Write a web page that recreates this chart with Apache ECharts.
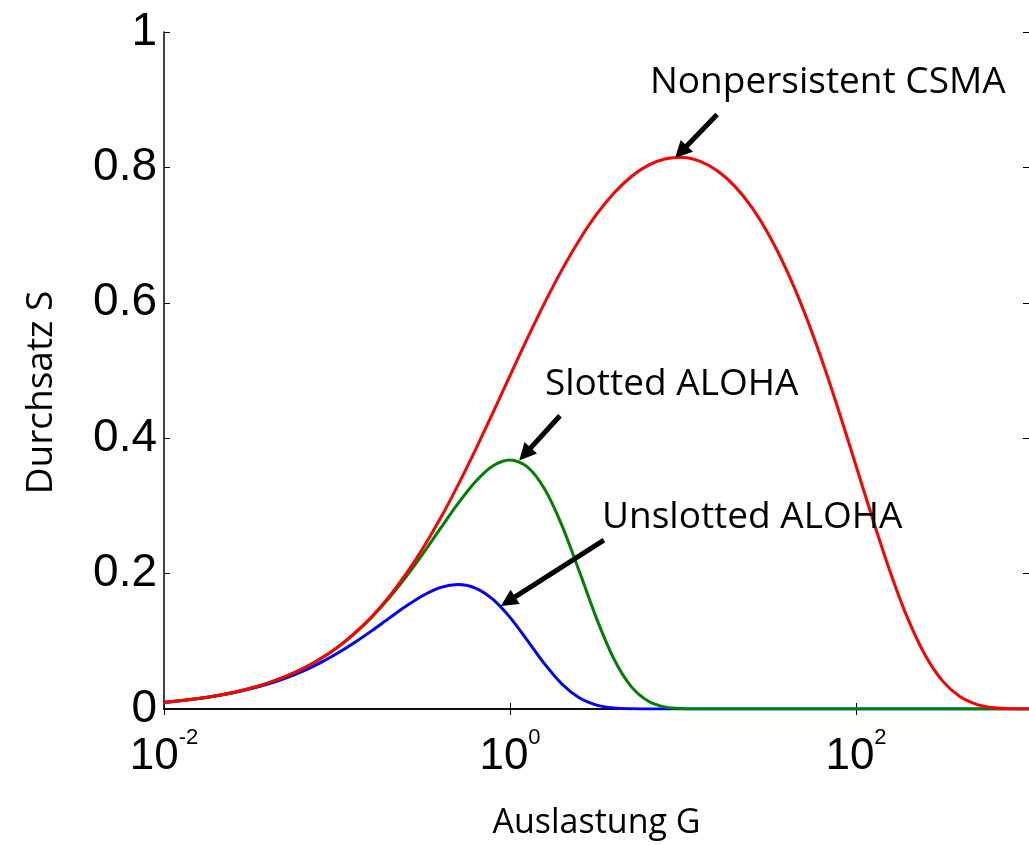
<!DOCTYPE html>
<html>
<head>
<meta charset="utf-8">
<script src="https://cdn.jsdelivr.net/npm/echarts@6/dist/echarts.min.js"></script>
<style>
html,body{margin:0;padding:0;background:#ffffff;}
#chart{width:1029px;height:845px;}
</style>
</head>
<body>
<div id="chart"></div>
<script>
// ---- data (load G on log axis, throughput S) ----
const loadG = [0.01, 0.01259, 0.01585, 0.01995, 0.02512, 0.03162, 0.03981, 0.05012, 0.0631, 0.07943,
  0.1, 0.1259, 0.1585, 0.1995, 0.2512, 0.3162, 0.3981, 0.5012, 0.631, 0.7943,
  1, 1.259, 1.585, 1.995, 2.512, 3.162, 3.981, 5.012, 6.31, 7.943,
  10, 12.59, 15.85, 19.95, 25.12, 31.62, 39.81, 50.12, 63.1, 79.43,
  100, 125.9, 158.5, 199.5, 251.2, 316.2, 398.1, 501.2, 631, 794.3, 1000];

const unslottedAloha = [0.0098, 0.0123, 0.0154, 0.0192, 0.0239, 0.0297, 0.0368, 0.0453, 0.0556, 0.0678,
  0.0819, 0.0979, 0.1154, 0.1339, 0.152, 0.168, 0.1796, 0.1839, 0.1786, 0.1622,
  0.1353, 0.1015, 0.0666, 0.0369, 0.0165, 0.0057, 0.0014, 0.0002, 0, 0,
  0, 0, 0, 0, 0, 0, 0, 0, 0, 0,
  0, 0, 0, 0, 0, 0, 0, 0, 0, 0, 0];

const slottedAloha = [0.0099, 0.0124, 0.0156, 0.0196, 0.0245, 0.0306, 0.0383, 0.0477, 0.0592, 0.0734,
  0.0905, 0.111, 0.1353, 0.1634, 0.1954, 0.2305, 0.2674, 0.3036, 0.3357, 0.3589,
  0.3679, 0.3575, 0.3249, 0.2713, 0.2037, 0.1339, 0.0743, 0.0334, 0.0115, 0.0028,
  0.0005, 0, 0, 0, 0, 0, 0, 0, 0, 0,
  0, 0, 0, 0, 0, 0, 0, 0, 0, 0, 0];

const nonpersistentCsma = [0.0099, 0.0124, 0.0156, 0.0196, 0.0245, 0.0306, 0.0383, 0.0477, 0.0593, 0.0735,
  0.0907, 0.1116, 0.1364, 0.1657, 0.1999, 0.2389, 0.2828, 0.3311, 0.3829, 0.4372,
  0.4926, 0.5473, 0.5998, 0.6486, 0.6925, 0.7305, 0.7618, 0.7862, 0.8033, 0.8129,
  0.8148, 0.8089, 0.7947, 0.772, 0.7401, 0.6988, 0.6477, 0.587, 0.5174, 0.4406,
  0.3594, 0.2778, 0.2007, 0.1332, 0.0795, 0.0415, 0.0183, 0.0065, 0.0018, 0.0003, 0];

const xTickValues = [0.01, 1, 100];
const seriesNames = ['Unslotted ALOHA', 'Slotted ALOHA', 'Nonpersistent CSMA'];
const xAxisTitle = 'Auslastung G';
const yAxisTitle = 'Durchsatz S';

// ---- annotation placement (data coordinates) ----
const annotations = [
  { text: 'Nonpersistent CSMA', at: [6.44, 0.925], tail: [15.74, 0.878], tip: [9.73, 0.8228] },
  { text: 'Slotted ALOHA',      at: [1.593, 0.4787], tail: [1.945, 0.4332], tip: [1.221, 0.3765] },
  { text: 'Unslotted ALOHA',    at: [3.404, 0.2834], tail: [3.49, 0.2496], tip: [0.974, 0.1589] }
];

const tickFont = '"Liberation Sans", Arial, sans-serif';
const textFont = '"Open Sans", sans-serif';
const colors = ['#0000ff', '#008000', '#ff0000'];
const values = [unslottedAloha, slottedAloha, nonpersistentCsma];

const chart = echarts.init(document.getElementById('chart'), null, { renderer: 'canvas' });

const series = values.map((ys, k) => ({
  name: seriesNames[k],
  type: 'line',
  data: loadG.map((g, i) => [g, ys[i]]),
  showSymbol: false,
  smooth: 0.3,
  lineStyle: { color: colors[k], width: 3 },
  itemStyle: { color: colors[k] },
  z: 2 + k,
  silent: true
}));

series[2].markPoint = {
  silent: true,
  symbol: 'circle',
  symbolSize: 0,
  itemStyle: { color: 'transparent' },
  label: {
    show: true,
    position: 'right',
    distance: 0,
    color: '#000',
    fontFamily: textFont,
    fontSize: 37
  },
  data: annotations.map(a => ({ coord: a.at, name: a.text, label: { formatter: a.text } }))
};
series[2].markLine = {
  silent: true,
  symbol: ['none', 'triangle'],
  symbolSize: 17,
  label: { show: false },
  itemStyle: { color: '#000' },
  lineStyle: { color: '#000', width: 5, type: 'solid' },
  emphasis: { disabled: true },
  data: annotations.map(a => [{ coord: a.tail }, { coord: a.tip }])
};

const axisLineStyle = { color: '#000', width: 1.5 };

chart.setOption({
  animation: false,
  backgroundColor: '#ffffff',
  grid: { left: 164, right: 0, top: 32, bottom: 132, containLabel: false },
  xAxis: [
    {
      type: 'log', logBase: 10, min: 0.01, max: 1000, position: 'bottom',
      name: xAxisTitle, nameLocation: 'middle', nameGap: 97,
      nameTextStyle: { fontFamily: textFont, fontSize: 34, color: '#000' },
      axisLine: { show: true, lineStyle: axisLineStyle },
      axisTick: { show: true, inside: true, length: 6, customValues: xTickValues, lineStyle: { color: '#000', width: 1 } },
      minorTick: { show: false },
      splitLine: { show: false },
      axisLabel: {
        show: true, margin: 18, customValues: xTickValues,
        formatter: v => '{b|10}{e|' + Math.round(Math.log10(v)) + '}',
        rich: {
          b: { fontFamily: tickFont, fontSize: 44, color: '#000', lineHeight: 60 },
          e: { fontFamily: tickFont, fontSize: 22, color: '#000', lineHeight: 16, verticalAlign: 'top' }
        }
      }
    },
    {
      type: 'log', logBase: 10, min: 0.01, max: 1000, position: 'top',
      axisLine: { show: true, lineStyle: axisLineStyle },
      axisTick: { show: true, inside: true, length: 6, customValues: xTickValues, lineStyle: { color: '#000', width: 1 } },
      axisLabel: { show: false },
      splitLine: { show: false }
    }
  ],
  yAxis: [
    {
      type: 'value', min: 0, max: 1, interval: 0.2, position: 'left',
      name: yAxisTitle, nameLocation: 'middle', nameGap: 104,
      nameTextStyle: { fontFamily: textFont, fontSize: 37, color: '#000', padding: [0, 44, 0, 0] },
      axisLine: { show: true, lineStyle: axisLineStyle },
      axisTick: { show: true, inside: true, length: 6, lineStyle: { color: '#000', width: 1 } },
      splitLine: { show: false },
      axisLabel: {
        show: true, margin: 7, fontFamily: tickFont, fontSize: 46, color: '#000',
        padding: [0, 0, 10, 0]
      }
    },
    {
      type: 'value', min: 0, max: 1, interval: 0.2, position: 'right',
      axisLine: { show: false },
      axisTick: { show: true, inside: true, length: 6, lineStyle: { color: '#000', width: 1 } },
      axisLabel: { show: false },
      splitLine: { show: false }
    }
  ],
  series: series
});
</script>
</body>
</html>
